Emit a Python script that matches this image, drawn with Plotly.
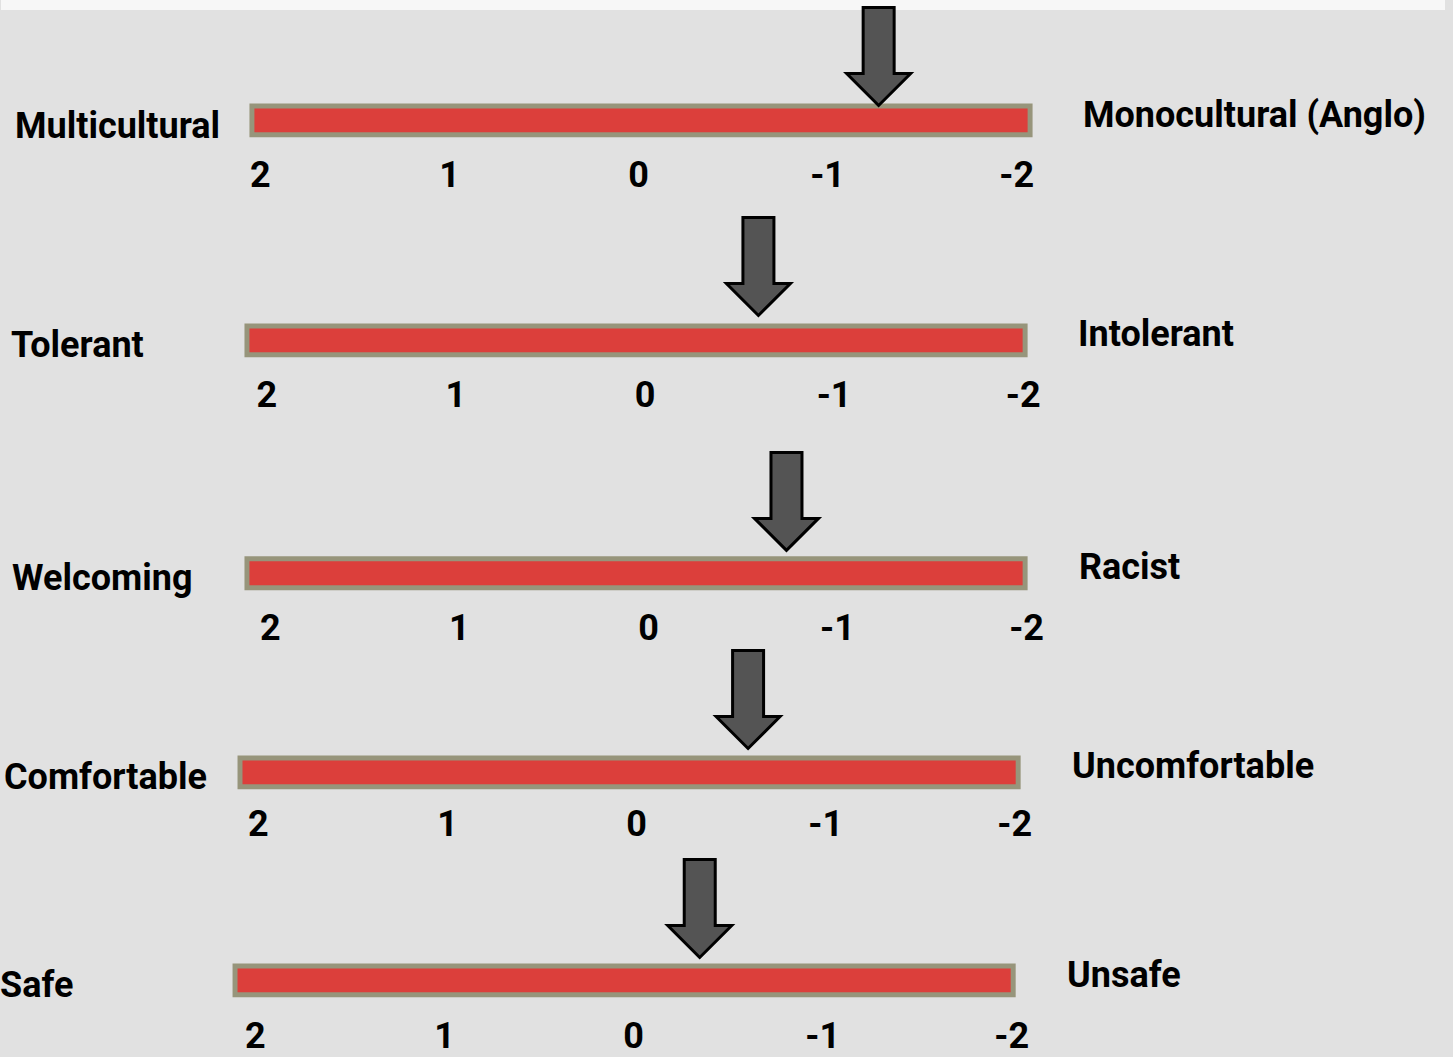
import plotly.graph_objects as go

# ---- data ----
left_labels = ["Multicultural", "Tolerant", "Welcoming", "Comfortable", "Safe"]
right_labels = ["Monocultural (Anglo)", "Intolerant", "Racist", "Uncomfortable", "Unsafe"]
arrow_values = [-1.27, -0.60, -0.73, -0.59, -0.35]
tick_values = [2, 1, 0, -1, -2]
tick_labels = ["2", "1", "0", "-1", "-2"]

# ---- layout (pixels) ----
W, H = 1453, 1057
BAR_W, BAR_H, BORDER = 788, 34, 5
PX_PER_UNIT = 190.25
bar_left = [250, 245, 245, 238, 233]
bar_top = [104, 325, 559, 759, 968]
scale_left = [261, 267.5, 271, 259, 256]   # pixel centre of the "2" label
tip_y = [106, 317, 553, 752, 962]
left_x = [12, 8, 9, 1, -3]
left_y = [127, 347, 581, 781, 990]
right_x = [1087, 1082, 1083, 1076, 1071]
right_y = [116, 336, 570, 770, 980]
tick_y = [175, 396, 630, 827, 1040]
PAD = 0.05

FONT = dict(family="Roboto, Arial, sans-serif", size=36, color="black", weight="bold")
RED = "#dc3f3b"
OLIVE = "#97957b"
ARROW_FILL = "#545454"


def py(y):
    return 1 - y / H


fig = go.Figure()
shapes = []
annotations = []

shapes.append(dict(type="rect", xref="paper", yref="paper", x0=0, x1=1,
                   y0=py(10), y1=1, fillcolor="#f7f7f7", line_width=0, layer="below"))

arrow_path = "M 0,0 L -32,32 L -15.5,32 L -15.5,98 L 15.5,98 L 15.5,32 L 32,32 Z"

for i in range(5):
    n = "" if i == 0 else str(i + 1)
    xa, ya = "x" + n, "y" + n
    lo = max(tick_values) + PAD
    hi = min(tick_values) - PAD
    d0 = scale_left[i] - PAD * PX_PER_UNIT
    d1 = scale_left[i] + (lo - hi - PAD) * PX_PER_UNIT
    fig.layout["xaxis" + n] = dict(
        domain=[d0 / W, d1 / W], range=[lo, hi], anchor="free",
        position=py(tick_y[i] - 24), tickvals=tick_values, ticktext=tick_labels,
        tickfont=FONT, showgrid=False, zeroline=False, showline=False, ticks="",
        fixedrange=True,
    )
    fig.layout["yaxis" + n] = dict(
        domain=[py(bar_top[i] + BAR_H), py(bar_top[i])], range=[0, 1],
        visible=False, fixedrange=True,
    )
    fig.add_trace(go.Scatter(x=[arrow_values[i]], y=[1], xaxis=xa, yaxis=ya,
                             mode="markers", marker=dict(opacity=0),
                             hovertemplate=f"{left_labels[i]} / {right_labels[i]}: %{{x}}<extra></extra>",
                             showlegend=False))
    L = bar_left[i]
    shapes.append(dict(type="rect", xref="paper", yref="paper",
                       x0=L / W, x1=(L + BAR_W) / W,
                       y0=py(bar_top[i] + BAR_H), y1=py(bar_top[i]),
                       fillcolor=OLIVE, line_width=0))
    shapes.append(dict(type="rect", xref="paper", yref="paper",
                       x0=(L + BORDER) / W, x1=(L + BAR_W - BORDER) / W,
                       y0=py(bar_top[i] + BAR_H - BORDER), y1=py(bar_top[i] + BORDER),
                       fillcolor=RED, line_width=0))
    shapes.append(dict(type="path", xref=xa, yref="paper",
                       xsizemode="pixel", ysizemode="pixel",
                       xanchor=arrow_values[i], yanchor=py(tip_y[i]),
                       path=arrow_path, fillcolor=ARROW_FILL,
                       line=dict(color="black", width=3)))
    annotations.append(dict(text=left_labels[i], xref="paper", yref="paper",
                            x=left_x[i] / W, y=py(left_y[i]), xanchor="left", yanchor="middle",
                            showarrow=False, font=FONT))
    annotations.append(dict(text=right_labels[i], xref="paper", yref="paper",
                            x=right_x[i] / W, y=py(right_y[i]), xanchor="left", yanchor="middle",
                            showarrow=False, font=FONT))

fig.update_layout(
    width=W, height=H, margin=dict(l=0, r=0, t=0, b=0),
    paper_bgcolor="#e1e1e1", plot_bgcolor="rgba(0,0,0,0)",
    shapes=shapes, annotations=annotations, showlegend=False,
)

fig.write_html("out.html", config={"displayModeBar": False},
               post_script="document.body.style.margin='0';document.body.style.overflow='hidden';")
